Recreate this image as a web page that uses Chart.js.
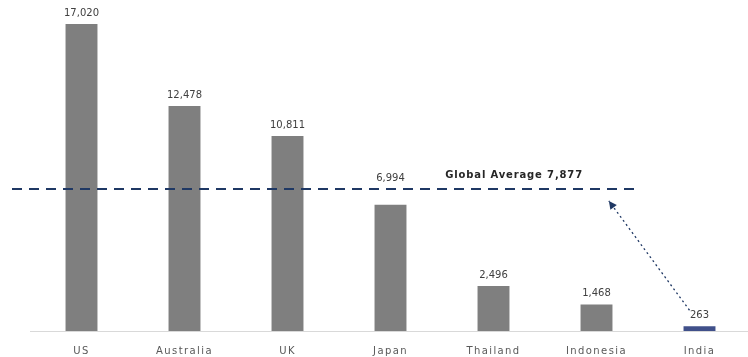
<!DOCTYPE html>
<html>
<head>
<meta charset="utf-8">
<script src="https://cdn.jsdelivr.net/npm/chart.js@4/dist/chart.umd.min.js"></script>
<style>
  html, body { margin: 0; padding: 0; background: #ffffff; overflow: hidden; }
  #wrap { position: relative; width: 751px; height: 357px; }
</style>
</head>
<body>
<div id="wrap"><canvas id="chart"></canvas></div>
<script>
// Per-capita figures by country
const countries = ['US', 'Australia', 'UK', 'Japan', 'Thailand', 'Indonesia', 'India'];
const values = [17020, 12478, 10811, 6994, 2496, 1468, 263];
const globalAverage = 7877;
const averageLabel = 'Global Average 7,877';

const GREY = '#7f7f7f';
const NAVY = '#1f3864';
const HIGHLIGHT = '#40508a';
const FONT = '"DejaVu Sans", "Liberation Sans", Arial, sans-serif';

const fmt = v => v.toLocaleString('en-US');

// Wider tracking for the category labels
const tracking = {
  id: 'tracking',
  beforeDraw(chart) { chart.ctx.letterSpacing = '1.4px'; }
};

// Dashed average line, its caption, value labels and the arrow from India
const overlay = {
  id: 'overlay',
  afterDatasetsDraw(chart) {
    const { ctx, chartArea, scales: { x, y } } = chart;
    const lineY = y.getPixelForValue(globalAverage);
    const step = x.getPixelForValue(1) - x.getPixelForValue(0);

    // average line
    ctx.save();
    ctx.strokeStyle = NAVY;
    ctx.lineWidth = 2;
    ctx.setLineDash([10, 7]);
    ctx.beginPath();
    ctx.moveTo(chartArea.left - 18, lineY);
    ctx.lineTo(x.getPixelForValue(5) + 0.4 * step, lineY);
    ctx.stroke();
    ctx.restore();

    // caption
    ctx.save();
    ctx.letterSpacing = '0.85px';
    ctx.font = 'bold 10px ' + FONT;
    ctx.fillStyle = '#262626';
    ctx.textAlign = 'center';
    ctx.textBaseline = 'middle';
    ctx.fillText(averageLabel, x.getPixelForValue(4) + 0.2 * step, lineY - 14);
    ctx.restore();

    // value labels
    const meta = chart.getDatasetMeta(0);
    ctx.save();
    ctx.letterSpacing = '0px';
    ctx.font = '10px ' + FONT;
    ctx.fillStyle = '#404040';
    ctx.textAlign = 'center';
    ctx.textBaseline = 'middle';
    meta.data.forEach((bar, i) => {
      let ly = bar.y - 11;
      if (Math.abs(ly - lineY) < 9) ly = lineY - 11;
      ctx.fillText(fmt(values[i]), bar.x, ly);
    });
    ctx.restore();

    // dotted arrow from India up to the average line
    const india = meta.data[6];
    const sx = india.x - 10, sy = india.y - 16;
    const ex = x.getPixelForValue(5) + 0.12 * step, ey = lineY + 12;
    ctx.save();
    ctx.strokeStyle = NAVY;
    ctx.lineWidth = 1.3;
    ctx.setLineDash([2, 3]);
    ctx.beginPath();
    ctx.moveTo(sx, sy);
    ctx.lineTo(ex, ey);
    ctx.stroke();
    ctx.setLineDash([]);
    const ang = Math.atan2(ey - sy, ex - sx);
    const len = 8, half = 4;
    ctx.fillStyle = NAVY;
    ctx.beginPath();
    ctx.moveTo(ex, ey);
    ctx.lineTo(ex - len * Math.cos(ang) + half * Math.sin(ang), ey - len * Math.sin(ang) - half * Math.cos(ang));
    ctx.lineTo(ex - len * Math.cos(ang) - half * Math.sin(ang), ey - len * Math.sin(ang) + half * Math.cos(ang));
    ctx.closePath();
    ctx.fill();
    ctx.restore();
  }
};

new Chart(document.getElementById('chart'), {
  type: 'bar',
  data: {
    labels: countries,
    datasets: [{
      data: values,
      backgroundColor: countries.map(c => c === 'India' ? HIGHLIGHT : GREY),
      barPercentage: 0.31,
      categoryPercentage: 1.0,
      borderWidth: 0
    }]
  },
  options: {
    responsive: true,
    maintainAspectRatio: false,
    animation: false,
    layout: { padding: { left: 30, right: 0, top: 0, bottom: 0 } },
    plugins: { legend: { display: false }, tooltip: { enabled: false } },
    scales: {
      x: {
        grid: { display: false, drawTicks: false },
        border: { display: true, color: '#d9d9d9', width: 1 },
        ticks: {
          color: '#595959',
          font: { family: FONT, size: 10 },
          padding: 14,
          maxRotation: 0,
          autoSkip: false
        },
        afterFit(scale) { scale.height = 26; }
      },
      y: {
        display: false,
        min: 0,
        max: 18350
      }
    }
  },
  plugins: [tracking, overlay]
});
</script>
</body>
</html>
